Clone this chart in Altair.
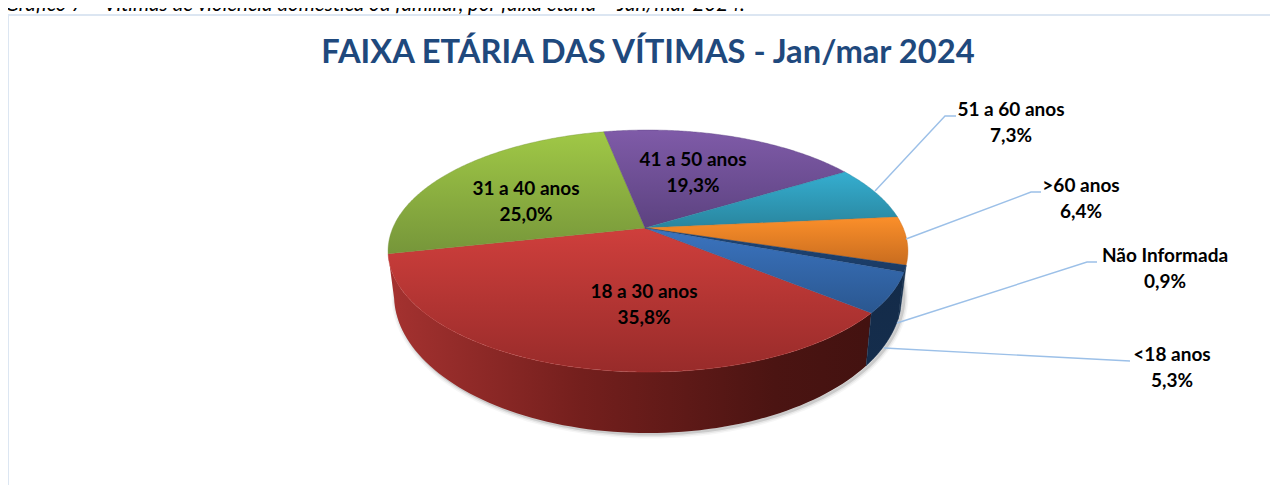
import numpy as np
import pandas as pd
import altair as alt

# ---- data (clockwise from the red slice) ----
NAMES = ["18 a 30 anos", "31 a 40 anos", "41 a 50 anos", "51 a 60 anos", ">60 anos", "Não Informada", "<18 anos"]
VALUES = [35.8, 25.0, 19.3, 7.3, 6.4, 0.9, 5.3]
TITLE = "FAIXA ETÁRIA DAS VÍTIMAS - Jan/mar 2024"
CAPTION = "Gráfico 7 – Vítimas de violência doméstica ou familiar, por faixa etária – Jan/mar 2024."

# ---- styling ----
TOP_COLORS = {
    "18 a 30 anos": ("#cf3f3c", "#982b2a"),
    "31 a 40 anos": ("#a0c846", "#76963a"),
    "41 a 50 anos": ("#7f5ba8", "#5c4280"),
    "51 a 60 anos": ("#35aed0", "#29859e"),
    ">60 anos": ("#fb8f2a", "#c86c1f"),
    "Não Informada": ("#1f4678", "#1a3a63"),
    "<18 anos": ("#3b74c0", "#2a5790"),
}
WALLS = {
    "18 a 30 anos": [("#a53230", 0), ("#741f1d", 0.4), ("#4b1412", 0.8), ("#431210", 1)],
    "Não Informada": [("#16304f", 0), ("#16304f", 1)],
    "<18 anos": [("#132b49", 0), ("#152d4c", 1)],
}
W, H = 1262, 477
MX, MY = 8, 8            # page margin
AX, AY = 648, 229        # centre of the rim's perspective on the page
HUBX, HUBY = 645, 228    # point where the slices meet
A, B, P = 255.6, 117.0, 0.182   # perspective of the top face
BX, BSX, BY, BSY = 648, 0.977, 270, 1.14  # base face
START = -39.4            # clockwise start angle of the first slice


def top(th):
    t = np.radians(th)
    d = 1 + P * np.sin(t)
    return A * np.cos(t) / d, B * np.sin(t) / d


def to_page(th, base=False):
    x, y = top(th)
    if base:
        return BX + BSX * x - MX, BY - BSY * y - MY
    return AX + x - MX, AY - y - MY


def frame(xs, ys):
    return pd.DataFrame({"x": xs, "y": ys, "i": np.arange(len(xs))})


XS = alt.Scale(domain=[0, W], range=[0, W], nice=False, zero=False)
YS = alt.Scale(domain=[0, H], range=[0, H], nice=False, zero=False)


def path(df, **mark):
    return alt.Chart(df).mark_line(interpolate="linear", **mark).encode(
        x=alt.X("x:Q", scale=XS, axis=None),
        y=alt.Y("y:Q", scale=YS, axis=None),
        order="i:Q",
    )


def grad(stops, horizontal=False):
    return {
        "gradient": "linear",
        "x1": 0, "y1": 0,
        "x2": 1 if horizontal else 0,
        "y2": 0 if horizontal else 1,
        "stops": [{"offset": o, "color": c} for c, o in stops],
    }


# slice angles
spans = {}
a = START
for n, v in zip(NAMES, VALUES):
    b = a - v * 3.6
    spans[n] = (a, b)
    a = b

layers = []

# chart frame
layers.append(
    alt.Chart(pd.DataFrame({"a": [0]})).mark_rect(fill="white", stroke="#dce6f2", strokeWidth=2).encode(
        x=alt.value(0), x2=alt.value(W + 10), y=alt.value(7), y2=alt.value(H + 10)
    )
)

# soft shadow round the base
th_all = np.linspace(0, 360, 361)
bx, by = to_page(th_all, base=True)
for w, op in [(9, 0.035), (6, 0.06), (3, 0.12)]:
    layers.append(path(frame(bx + 2, by + 1), stroke="#000000", strokeWidth=w, strokeOpacity=op))

# walls
for n in ["18 a 30 anos", "<18 anos", "Não Informada"]:
    s, e = spans[n]
    th = np.linspace(s, e, 80)
    tx, ty = to_page(th)
    ux, uy = to_page(th[::-1], base=True)
    layers.append(path(
        frame(np.r_[tx, ux, tx[0]], np.r_[ty, uy, ty[0]]),
        fill=grad(WALLS[n], horizontal=True) if n == "18 a 30 anos" else grad(WALLS[n]),
        stroke=WALLS[n][-1][0] if n != "18 a 30 anos" else "transparent",
        strokeWidth=0.5,
    ))

# top faces
for n in NAMES:
    s, e = spans[n]
    th = np.linspace(s, e, max(8, int(abs(s - e)) * 2))
    tx, ty = to_page(th)
    ax, ay = HUBX - MX, HUBY - MY
    c0, c1 = TOP_COLORS[n]
    layers.append(path(
        frame(np.r_[ax, tx, ax], np.r_[ay, ty, ay]),
        fill=grad([(c0, 0), (c1, 1)]),
        stroke=c1 if n != "18 a 30 anos" else "#b83735",
        strokeWidth=0.4,
    ))

# leader lines (page pixels of the anchors)
LEADERS = [
    [(875, 191), (945, 116), (956, 116)],
    [(906, 239), (1031, 192), (1041, 192)],
    [(897, 323), (1087, 262), (1097, 262)],
    [(884, 348), (1130, 361)],
]
for pts in LEADERS:
    layers.append(path(
        frame([p[0] - MX for p in pts], [p[1] - MY for p in pts]),
        stroke="#9cc0e8", strokeWidth=1.4,
    ))

# labels: centre x and first-line y of each two-line label on the page
LABEL_POS = {
    "18 a 30 anos": (644, 292),
    "31 a 40 anos": (526, 189),
    "41 a 50 anos": (693, 160),
    "51 a 60 anos": (1011, 110),
    ">60 anos": (1081, 186),
    "Não Informada": (1165, 256),
    "<18 anos": (1172, 355),
}
FONT = "Lato"
for n, v in zip(NAMES, VALUES):
    lx, ly = LABEL_POS[n]
    label = n + "\n" + f"{v:.1f}".replace(".", ",") + "%"
    layers.append(
        alt.Chart(pd.DataFrame({"t": [label]})).mark_text(
            font=FONT, fontWeight="bold", fontSize=19, color="#000000",
            align="center", baseline="middle", lineBreak="\n", lineHeight=25.5,
        ).encode(text="t:N", x=alt.value(lx - MX), y=alt.value(ly - MY))
    )

# title
layers.append(
    alt.Chart(pd.DataFrame({"t": [TITLE]})).mark_text(
        font=FONT, fontWeight="bold", fontSize=32.7, color="#1f497d", align="center", baseline="middle",
    ).encode(text="t:N", x=alt.value(648 - MX), y=alt.value(53 - MY))
)

# caption above the frame, cut off by the top edge as in the source
layers.append(
    alt.Chart(pd.DataFrame({"t": [CAPTION]})).mark_text(
        font=FONT, fontStyle="italic", fontSize=20.5, color="#000000", align="left", baseline="alphabetic",
    ).encode(text="t:N", x=alt.value(-3), y=alt.value(3))
)

chart = (
    alt.layer(*layers)
    .properties(width=W, height=H, padding=0, autosize=alt.AutoSizeParams(type="none"))
    .configure_view(stroke=None)
)

chart.save("out.html", embed_options={"renderer": "svg", "actions": False})
